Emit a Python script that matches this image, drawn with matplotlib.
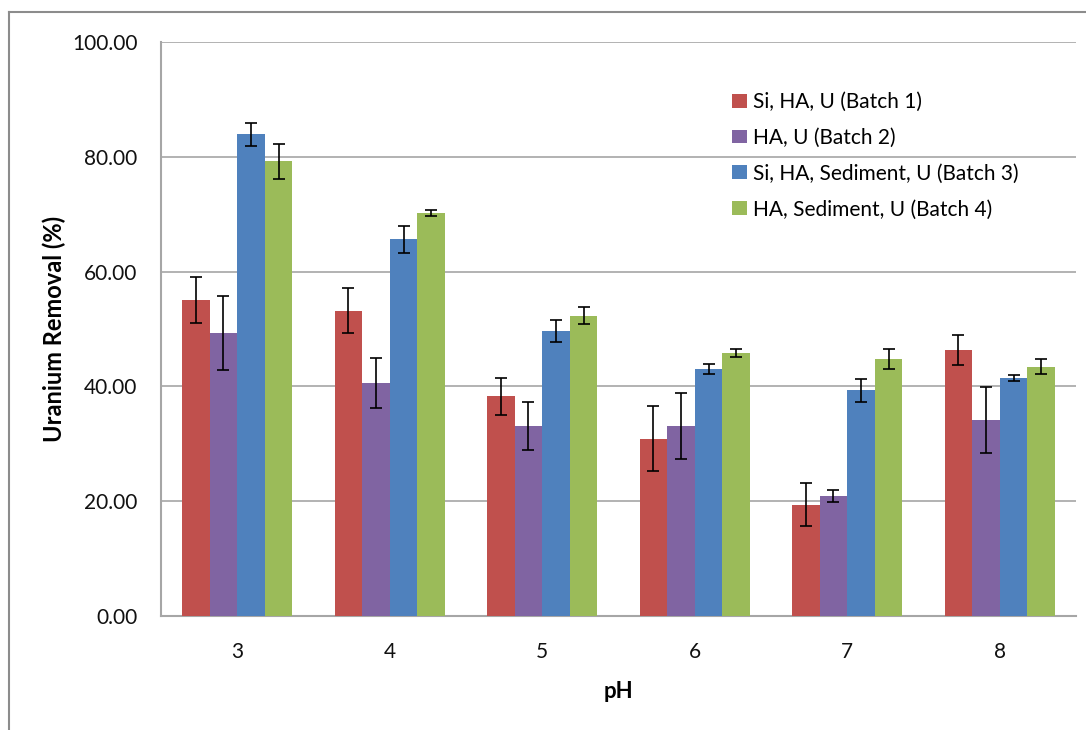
import matplotlib
matplotlib.use("Agg")
import matplotlib.pyplot as plt
import numpy as np

# pH values on the x axis
ph_labels = ["3", "4", "5", "6", "7", "8"]

# Uranium removal (%) per batch, with error bar half-widths
batch1 = [55.1, 53.2, 38.3, 30.9, 19.4, 46.3]
batch1_err = [4.0, 3.9, 3.2, 5.7, 3.7, 2.6]
batch2 = [49.3, 40.6, 33.1, 33.1, 20.9, 34.1]
batch2_err = [6.5, 4.3, 4.1, 5.8, 1.05, 5.75]
batch3 = [83.9, 65.6, 49.7, 43.0, 39.3, 41.5]
batch3_err = [2.0, 2.3, 1.9, 0.85, 1.95, 0.5]
batch4 = [79.2, 70.2, 52.3, 45.8, 44.7, 43.4]
batch4_err = [3.0, 0.5, 1.5, 0.75, 1.75, 1.3]

series_names = ["Si, HA, U (Batch 1)", "HA, U (Batch 2)",
                "Si, HA, Sediment, U (Batch 3)", "HA, Sediment, U (Batch 4)"]
colors = ["#C0504D", "#8064A2", "#4F81BD", "#9BBB59"]

plt.rcParams["font.family"] = ["Lato", "DejaVu Sans"]

fig = plt.figure(figsize=(10.86, 7.30), dpi=100)
ax = fig.add_axes([161 / 1086, 114 / 730, 915 / 1086, 574 / 730])

x = np.arange(len(ph_labels))
width = 0.181
values = [batch1, batch2, batch3, batch4]
errors = [batch1_err, batch2_err, batch3_err, batch4_err]
for k, (vals, errs, name, col) in enumerate(zip(values, errors, series_names, colors)):
    ax.bar(x + (k - 1.5) * width, vals, width, color=col, label=name,
           yerr=errs, capsize=4, zorder=3,
           error_kw=dict(ecolor="black", elinewidth=1.2, capthick=1.2, zorder=4))

ax.set_xlim(-0.5, len(ph_labels) - 0.5)
ax.set_ylim(0, 100)
ax.set_yticks(np.arange(0, 101, 20))
ax.set_yticklabels([f"{v:.2f}" for v in np.arange(0, 101, 20)])
ax.set_xticks(x)
ax.set_xticklabels(ph_labels)

ax.yaxis.grid(True, color="#A6A6A6", linewidth=1.2, zorder=0)
ax.set_axisbelow(True)
for side in ("top", "right"):
    ax.spines[side].set_visible(False)
for side in ("left", "bottom"):
    ax.spines[side].set_color("#A6A6A6")
    ax.spines[side].set_linewidth(1.5)
ax.tick_params(axis="both", length=0, labelsize=15, colors="#111111")
ax.tick_params(axis="y", pad=17)
ax.tick_params(axis="x", pad=19)

ax.set_ylabel("Uranium Removal (%)", fontsize=17, fontweight="bold")
ax.yaxis.set_label_coords(-0.104, 0.5)
ax.set_xlabel("pH", fontsize=16, fontweight="bold")
ax.xaxis.set_label_coords(0.5, -0.113)

ax.legend(loc="upper left", bbox_to_anchor=(732 / 1086, 1 - 92 / 730),
          bbox_transform=fig.transFigure, frameon=False, fontsize=15,
          handlelength=0.7, handleheight=0.65, handletextpad=0.3,
          labelspacing=0.76, borderaxespad=0, borderpad=0)

# chart area border (top and left edges)
fig.add_artist(plt.Line2D([9 / 1086, 1], [1 - 12 / 730, 1 - 12 / 730],
                          color="#8C8C8C", linewidth=1.5, transform=fig.transFigure))
fig.add_artist(plt.Line2D([9 / 1086, 9 / 1086], [0, 1 - 12 / 730],
                          color="#8C8C8C", linewidth=1.5, transform=fig.transFigure))

fig.savefig("out.png", dpi=100)
